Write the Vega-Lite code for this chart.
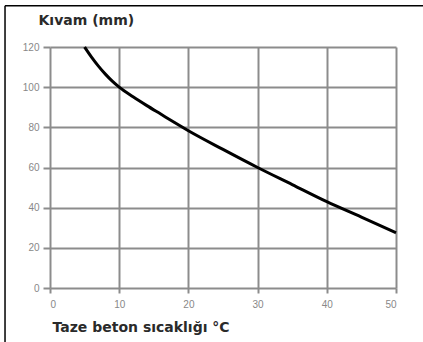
{
  "$schema": "https://vega.github.io/schema/vega-lite/v6.json",
  "width": 346,
  "height": 241,
  "autosize": {"type": "none"},
  "padding": {"left": 50, "top": 47, "right": 27, "bottom": 54},
  "background": "white",
  "config": {
    "view": {"stroke": null},
    "font": "Liberation Sans"
  },
  "layer": [
    {
      "data": {"values": [
        {"t": 5, "k": 120}, {"t": 6, "k": 115}, {"t": 7, "k": 110.5}, {"t": 8, "k": 106.5},
        {"t": 9, "k": 103}, {"t": 10, "k": 100}, {"t": 12, "k": 95.2}, {"t": 14, "k": 90.8},
        {"t": 16, "k": 86.6}, {"t": 18, "k": 82.4}, {"t": 20, "k": 78.3}, {"t": 25, "k": 69},
        {"t": 30, "k": 60}, {"t": 35, "k": 51.5}, {"t": 40, "k": 43}, {"t": 45, "k": 35.3}, {"t": 50, "k": 27.5}
      ]},
      "mark": {"type": "line", "color": "black", "strokeWidth": 3, "interpolate": "monotone"},
      "encoding": {
        "x": {
          "field": "t", "type": "quantitative",
          "scale": {"domain": [0, 50], "nice": false},
          "axis": {
            "values": [0, 10, 20, 30, 40, 50],
            "title": "Taze beton sıcaklığı °C",
            "titleFont": "DejaVu Sans", "titleFontSize": 14, "titleFontWeight": "bold", "titleColor": "#2a2a2a",
            "titleAnchor": "start", "titleAlign": "left", "titleX": 2, "titleY": 39, "titleBaseline": "middle",
            "grid": true, "gridColor": "#8c8c8c", "gridWidth": 2,
            "domain": false, "ticks": true, "tickColor": "#8c8c8c", "tickWidth": 2, "tickSize": 5,
            "labelFontSize": 10, "labelColor": "#888", "labelPadding": 6
          }
        },
        "y": {
          "field": "k", "type": "quantitative",
          "scale": {"domain": [0, 120], "nice": false},
          "axis": {
            "values": [0, 20, 40, 60, 80, 100, 120],
            "title": "Kıvam (mm)",
            "titleFont": "DejaVu Sans", "titleFontSize": 14, "titleFontWeight": "bold", "titleColor": "#2a2a2a",
            "titleAngle": 0, "titleAlign": "left", "titleBaseline": "middle", "titleX": -12, "titleY": -27,
            "grid": true, "gridColor": "#8c8c8c", "gridWidth": 2,
            "domain": false, "ticks": true, "tickColor": "#8c8c8c", "tickWidth": 2, "tickSize": 7,
            "labelFontSize": 10, "labelColor": "#888", "labelPadding": 4
          }
        }
      }
    },
    {
      "data": {"values": [
        {"x1": -6.5, "x2": -6.5, "y1": -27, "y2": 140.5},
        {"x1": -6.5, "x2": 55, "y1": 140.5, "y2": 140.5}
      ]},
      "mark": {"type": "rule", "color": "black", "strokeWidth": 1.5, "clip": false},
      "encoding": {
        "x": {"field": "x1", "type": "quantitative"},
        "x2": {"field": "x2"},
        "y": {"field": "y1", "type": "quantitative"},
        "y2": {"field": "y2"}
      }
    }
  ]
}
